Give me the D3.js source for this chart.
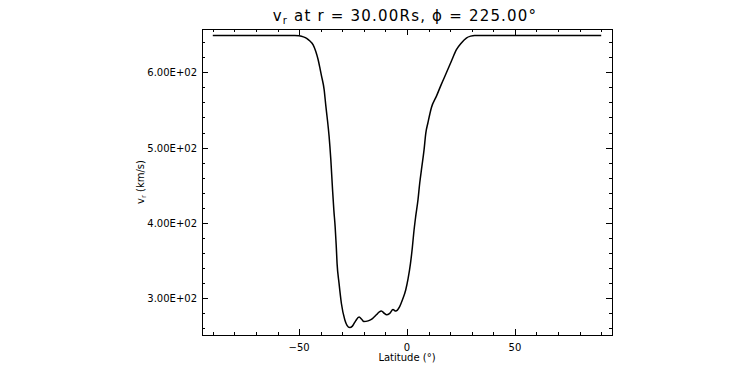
<!DOCTYPE html>
<html>
<head>
<meta charset="utf-8">
<script src="https://cdn.jsdelivr.net/npm/d3@7"></script>
<style>
  body { margin: 0; background: #fff; }
  text { font-family: "DejaVu Sans", sans-serif; fill: #000; }
</style>
</head>
<body>
<div id="chart"></div>
<script>
const w = 750;
const h = 375;

// latitude (deg) and radial speed (km/s)
const lat = [-90, -52, -50, -48, -46.5, -45, -43.5, -42.3, -41.2, -40.3, -39.6, -38.4,
    -37.6, -37, -36.1, -35.3, -34.5, -33.9, -33.3, -32.8, -32.4, -31.5, -30.4, -28.8,
    -27.8, -26.5, -25.3, -23.8, -22.2, -21, -20, -18, -16, -14.2, -12.8, -11.9, -10.5,
    -9.5, -8, -6.5, -5.2, -3.4, -2.1, -0.6, 0.5, 1.6, 2.5, 3.1, 4, 5.1, 5.9, 6.9, 7.9,
    8.7, 9.7, 11.3, 13.6, 15.9, 18.2, 20.6, 22.9, 25.2, 27.5, 29.5, 31.3, 90];
const vr = [649, 649, 648.5, 647, 645, 641.5, 636.5, 628, 617, 605, 595, 577,
    555, 540, 515, 484, 444, 417, 395, 370, 346, 320, 293, 271,
    264, 261, 263, 270, 275, 272, 269, 270, 273, 278, 282, 283, 280,
    278, 280, 285, 283, 289, 298, 311, 326, 346, 368, 386, 408, 431, 453, 475, 497,
    519, 533, 553, 568, 584, 599, 615, 630, 639, 645.5, 648, 649, 649];

const xMajor = [-50, 0, 50];
const xMinor = [-90, -80, -70, -60, -40, -30, -20, -10, 10, 20, 30, 40, 60, 70, 80, 90];
const yMajor = [300, 400, 500, 600];
const yMinor = [260, 280, 320, 340, 360, 380, 420, 440, 460, 480, 520, 540, 560, 580, 620, 640];

const data = lat.map((d, i) => ({ lat: d, v: vr[i] }));

const pLeft = 202, pRight = 612, pTop = 29, pBottom = 335;

const x = d3.scaleLinear().domain([-95, 95]).range([pLeft, pRight]);
const y = d3.scaleLinear().domain([251.2, 657.5]).range([pBottom, pTop]);

const svg = d3.select("#chart").append("svg")
    .attr("width", w)
    .attr("height", h);

// frame
svg.append("rect")
    .attr("x", pLeft + 0.5).attr("y", pTop + 0.5)
    .attr("width", pRight - pLeft).attr("height", pBottom - pTop)
    .attr("fill", "none").attr("stroke", "#000").attr("stroke-width", 1);

// ticks on all four sides, IDL style
function xTicks(vals, len) {
    vals.forEach(v => {
        const px = Math.round(x(v)) + 0.5;
        svg.append("line").attr("x1", px).attr("x2", px)
            .attr("y1", pBottom).attr("y2", pBottom - len)
            .attr("stroke", "#000");
        svg.append("line").attr("x1", px).attr("x2", px)
            .attr("y1", pTop).attr("y2", pTop + len)
            .attr("stroke", "#000");
    });
}
function yTicks(vals, len) {
    vals.forEach(v => {
        const py = Math.round(y(v)) + 0.5;
        svg.append("line").attr("x1", pLeft).attr("x2", pLeft + len)
            .attr("y1", py).attr("y2", py)
            .attr("stroke", "#000");
        svg.append("line").attr("x1", pRight).attr("x2", pRight - len)
            .attr("y1", py).attr("y2", py)
            .attr("stroke", "#000");
    });
}
xTicks(xMajor, 6);
xTicks(xMinor, 3);
yTicks(yMajor, 6);
yTicks(yMinor, 3);

// tick labels
svg.selectAll(".xlab")
    .data(xMajor)
    .enter()
    .append("text")
    .attr("x", d => x(d))
    .attr("y", 351)
    .attr("text-anchor", "middle")
    .style("font-size", "10px")
    .text(d => d < 0 ? "\u2212" + Math.abs(d) : d);

svg.selectAll(".ylab")
    .data(yMajor)
    .enter()
    .append("text")
    .attr("x", 197)
    .attr("y", d => y(d) + 4)
    .attr("text-anchor", "end")
    .style("font-size", "10px")
    .text(d => (d / 100).toFixed(2) + "E+02");

// axis titles
svg.append("text")
    .attr("x", 407)
    .attr("y", 361)
    .attr("text-anchor", "middle")
    .style("font-size", "10px")
    .text("Latitude (\u00b0)");

const yt = svg.append("text")
    .attr("transform", "translate(144,182) rotate(-90)")
    .attr("text-anchor", "middle")
    .style("font-size", "10px");
yt.append("tspan").text("v");
yt.append("tspan").attr("dy", 2).style("font-size", "7px").text("r");
yt.append("tspan").attr("dy", -2).text(" (km/s)");

// title
const title = svg.append("text")
    .attr("x", 405)
    .attr("y", 21)
    .attr("text-anchor", "middle")
    .style("font-size", "15px")
    .style("letter-spacing", "1.2px");
title.append("tspan").text("v");
title.append("tspan").attr("dy", 3).style("font-size", "10px").text("r");
title.append("tspan").attr("dy", -3).text(" at r = 30.00Rs, \u03d5 = 225.00\u00b0");

// line
const line = d3.line()
    .x(d => x(d.lat))
    .y(d => y(d.v))
    .curve(d3.curveMonotoneX);

svg.append("path")
    .datum(data)
    .attr("fill", "none")
    .attr("stroke", "#000")
    .attr("stroke-width", 1.5)
    .attr("d", line);
</script>
</body>
</html>
